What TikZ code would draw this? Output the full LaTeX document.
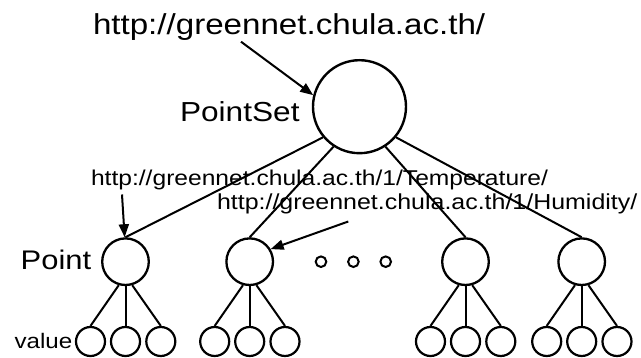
\documentclass[tikz,border=0pt]{standalone}
\usepackage{fontspec}
\setmainfont{Liberation Sans}[FakeStretch=1.15]
\usetikzlibrary{arrows.meta}
\begin{document}
\begin{tikzpicture}[x=1pt,y=-1pt,
  rootc/.style={draw, line width=2.4pt, circle, minimum size=93pt, inner sep=0pt},
  ptc/.style={draw, line width=2.3pt, circle, minimum size=46.6pt, inner sep=0pt},
  leafc/.style={draw, line width=2.2pt, circle, minimum size=29pt, inner sep=0pt},
  dotc/.style={draw, line width=2pt, circle, minimum size=10.6pt, inner sep=0pt},
  edge/.style={line width=2pt},
  arr/.style={line width=2pt, -{Triangle[length=13pt,width=10pt]}},
  txt/.style={anchor=base west, inner sep=0pt, outer sep=0pt}]
\useasboundingbox[fill=white] (0,0) rectangle (641,358);

% root
\node[rootc] (root) at (359.5,106.7) {};

% points and leaves
\foreach \i/\x in {1/125.5, 2/249.7, 3/465.5, 4/581.7} {
  \node[ptc] (p\i) at (\x,261.7) {};
  \node[leafc] (l\i a) at (\x-35,341.5) {};
  \node[leafc] (l\i b) at (\x,341.5) {};
  \node[leafc] (l\i c) at (\x+35.3,341.5) {};
  \draw[edge] (p\i.254) -- (l\i a.north);
  \draw[edge] (p\i.south) -- (l\i b.north);
  \draw[edge] (p\i.286) -- (l\i c.north);
}

% dots
\node[dotc] (d1) at (321,261.7) {};
\node[dotc] (d2) at (353.4,261.7) {};
\node[dotc] (d3) at (385.7,261.7) {};

% labels
\node[txt, font=\fontsize{28.8}{30}\selectfont] (url) at (93,34.5) {http://greennet.chula.ac.th/};
\node[txt, font=\fontsize{27.5}{30}\selectfont] (psl) at (180,122) {PointSet};
\node[txt, font=\fontsize{26.9}{30}\selectfont] (pl) at (20.7,270) {Point};
\node[txt, font=\fontsize{21}{24}\selectfont] (vl) at (14.5,348.3) {value};
\node[txt, font=\fontsize{21.4}{24}\selectfont] (tl) at (91,185.7) {http://greennet.chula.ac.th/1/Temperature/};
\node[txt, font=\fontsize{21.7}{24}\selectfont] (hl) at (217,210) {http://greennet.chula.ac.th/1/Humidity/};

% root edges
\draw[edge] (root.220) -- (p1.north);
\draw[edge] (root.237) -- (p2.north);
\draw[edge] (root.303) -- (p3.north);
\draw[edge] (root.320) -- (p4.north);

% arrows
\coordinate (a0) at (241,41.7);
\draw[arr] (a0) -- (root.166);
\coordinate (t0) at (122,194.5);
\draw[arr] (t0) -- (p1.92);
\coordinate (h0) at (348.3,221.5);
\draw[arr] (h0) -- (p2.31);
\end{tikzpicture}
\end{document}
